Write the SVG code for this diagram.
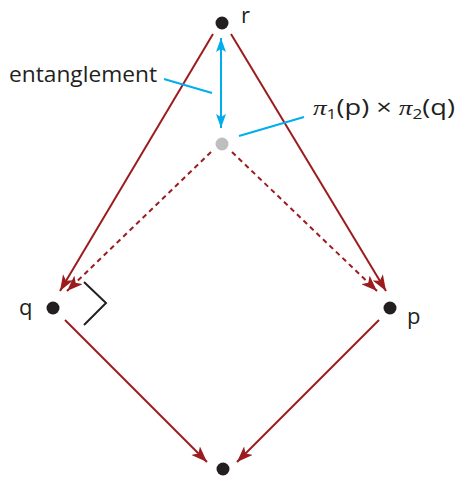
<svg xmlns="http://www.w3.org/2000/svg" width="459" height="477" viewBox="0 0 459 477">
<style>
.red{stroke:#9b1b1e;stroke-width:2;fill:none}
.dash{stroke-dasharray:5,4}
.blue{stroke:#00aeef;stroke-width:2;fill:none}
.dot{fill:#231f20}
.lbl{font-family:"Open Sans","Liberation Sans",sans-serif;font-size:22px;fill:#231f20}
</style>
<defs>
<marker id="ar" viewBox="0 0 16 12" refX="16" refY="6" markerWidth="16" markerHeight="12" markerUnits="userSpaceOnUse" orient="auto">
<path d="M0,0 L16,6 L0,12 L4,6 Z" fill="#9b1b1e"/>
</marker>
<marker id="ab" viewBox="0 0 14 10" refX="14" refY="5" markerWidth="14" markerHeight="10" markerUnits="userSpaceOnUse" orient="auto-start-reverse">
<path d="M0,0 L14,5 L0,10 L3,5 Z" fill="#00aeef"/>
</marker>
</defs>
<g id="connectors">
<line class="red" x1="213" y1="34" x2="60" y2="291" marker-end="url(#ar)"/>
<line class="red" x1="231" y1="34" x2="386" y2="291" marker-end="url(#ar)"/>
<line class="red dash" x1="211" y1="152" x2="67" y2="291" marker-end="url(#ar)"/>
<line class="red dash" x1="232" y1="152" x2="377" y2="291" marker-end="url(#ar)"/>
<line class="red" x1="65" y1="320" x2="207" y2="462" marker-end="url(#ar)"/>
<line class="red" x1="379" y1="320" x2="237" y2="462" marker-end="url(#ar)"/>
<line class="blue" x1="221" y1="38" x2="221" y2="128" marker-start="url(#ab)" marker-end="url(#ab)"/>
<line class="blue" x1="164" y1="79" x2="212" y2="93"/>
<line class="blue" x1="239" y1="136" x2="304" y2="117"/>
<polyline points="84,282 106,303 84,325" fill="none" stroke="#231f20" stroke-width="2"/>
</g>
<g id="r"><circle class="dot" cx="222" cy="23" r="6.5"/><text class="lbl" x="241" y="23">r</text></g>
<g id="mid"><circle cx="222" cy="144" r="6.5" fill="#bcbec0"/></g>
<g id="q"><circle class="dot" cx="53" cy="308" r="6.5"/><text class="lbl" x="19" y="315">q</text></g>
<g id="p"><circle class="dot" cx="390" cy="308" r="6.5"/><text class="lbl" x="407" y="324">p</text></g>
<g id="bottom"><circle class="dot" cx="223" cy="469" r="6.5"/></g>
<g id="entanglement"><text class="lbl" x="9" y="82" textLength="148" lengthAdjust="spacingAndGlyphs">entanglement</text></g>
<g id="product"><text class="lbl" x="313" y="115" textLength="142" lengthAdjust="spacingAndGlyphs"><tspan font-family="Liberation Serif,serif" font-style="italic">π</tspan><tspan font-size="14" dy="4">1</tspan><tspan dy="-4">(p) × </tspan><tspan font-family="Liberation Serif,serif" font-style="italic">π</tspan><tspan font-size="14" dy="4">2</tspan><tspan dy="-4">(q)</tspan></text></g>
</svg>
